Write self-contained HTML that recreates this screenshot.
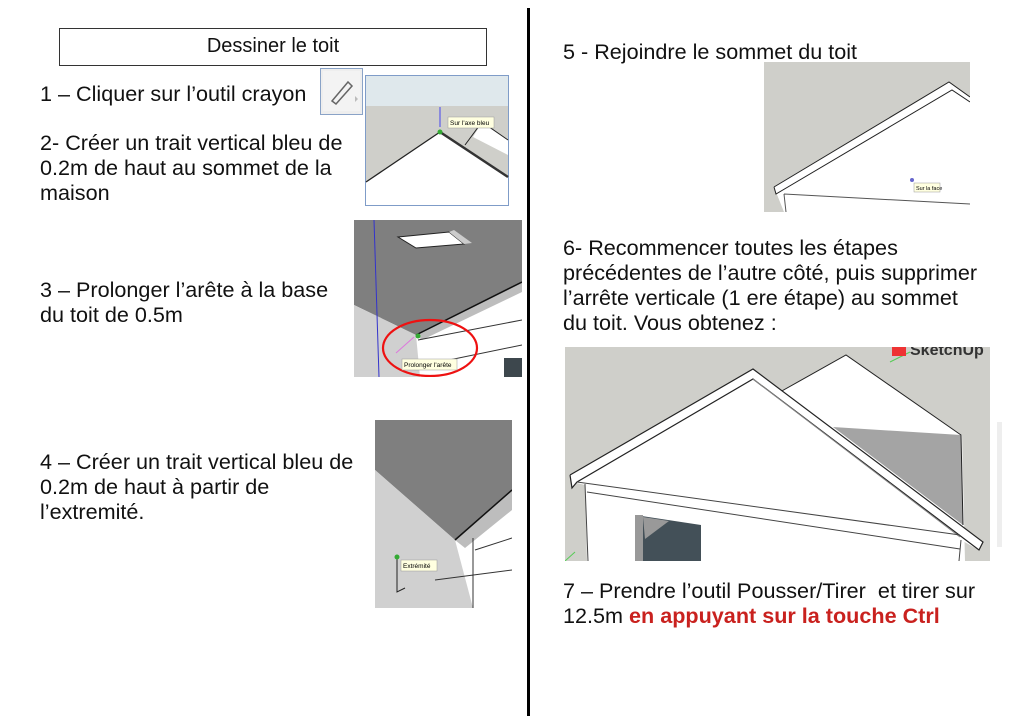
<!DOCTYPE html>
<html><head><meta charset="utf-8"><style>
body{margin:0;width:1024px;height:724px;background:#fff;position:relative;overflow:hidden;font-family:"Liberation Sans",sans-serif;color:#111}
.t{position:absolute;font-size:21.6px;line-height:25px;white-space:nowrap}
.a{position:absolute}
</style></head><body>
<div class="a" style="left:59px;top:28px;width:426px;height:36px;border:1px solid #333;text-align:center;font-size:20px;line-height:34px">Dessiner le toit</div>
<div class="a" style="left:527px;top:8px;width:3px;height:708px;background:#000"></div>

<div class="t" style="left:40px;top:81px">1 – Cliquer sur l’outil crayon</div>
<div class="t" style="left:40px;top:130px">2- Créer un trait vertical bleu de<br>0.2m de haut au sommet de la<br>maison</div>
<div class="t" style="left:40px;top:277px">3 – Prolonger l’arête à la base<br>du toit de 0.5m</div>
<div class="t" style="left:40px;top:449px">4 – Créer un trait vertical bleu de<br>0.2m de haut à partir de<br>l’extremité.</div>
<div class="t" style="left:563px;top:39px">5 - Rejoindre le sommet du toit</div>
<div class="t" style="left:563px;top:235px">6- Recommencer toutes les étapes<br>précédentes de l’autre côté, puis supprimer<br>l’arrête verticale (1 ere étape) au sommet<br>du toit. Vous obtenez :</div>
<div class="t" style="left:563px;top:578px">7 – Prendre l’outil Pousser/Tirer&nbsp; et tirer sur<br>12.5m <b style="color:#c9211e">en appuyant sur la touche Ctrl</b></div>

<!-- pencil -->
<svg class="a" style="left:320px;top:68px" width="43" height="47"><rect x="0.5" y="0.5" width="42" height="46" fill="#eee" stroke="#8aa3c7"/><rect x="3" y="3" width="37" height="40" fill="#f3f3f3"/><path d="M12 33 L28 14 L32 18 L16 36 Z" fill="none" stroke="#666" stroke-width="1.5"/><path d="M35 28 l3 3 -3 3z" fill="#bbb"/></svg>

<!-- img1 -->
<svg class="a" style="left:365px;top:75px" width="144" height="131"><rect x="0" y="0" width="144" height="131" fill="#fff" stroke="#7f9cc8" stroke-width="2"/><rect x="1" y="1" width="142" height="30" fill="#dfe8ec"/><rect x="1" y="31" width="142" height="99" fill="#cfcfca"/>
<path d="M1 107 L75 57 L143 102 L143 130 L1 130Z" fill="#fff"/><path d="M108 62 L117 47 L143 65 L143 80Z" fill="#fff"/>
<path d="M1 107 L75 57" stroke="#222" stroke-width="1.3"/><path d="M75 57 L143 102" stroke="#333" stroke-width="2.5"/><path d="M100 70 L117 47 L143 65" stroke="#222" fill="none"/>
<line x1="75" y1="52" x2="75" y2="32" stroke="#44e"/><circle cx="75" cy="57" r="2.5" fill="#3a3"/>
<rect x="83" y="42" width="46" height="11" fill="#ffffe0" stroke="#999" stroke-width=".5"/><text x="85" y="50" font-size="6.5" font-family="Liberation Sans">Sur l'axe bleu</text></svg>

<!-- img2 -->
<svg class="a" style="left:354px;top:220px" width="168" height="157"><rect width="168" height="157" fill="#fff"/>
<path d="M0 0 L168 0 L168 62 L62 115 L0 85Z" fill="#7f7f7f"/><path d="M168 62 L62 115 L68 120 L168 72Z" fill="#bdbdbd"/>
<path d="M0 85 L62 115 L66 157 L0 157Z" fill="#d0d0d0"/><path d="M44 17 L95 12 L110 24 L62 28Z" fill="#fff" stroke="#222"/><path d="M95 12 L110 24 L118 23 L100 10Z" fill="#ccc"/>
<path d="M64 120 L168 100 M66 146 L168 125" stroke="#333"/><path d="M168 62 L62 115" stroke="#111" stroke-width="1.5"/>
<line x1="20" y1="0" x2="25" y2="157" stroke="#33c"/><line x1="42" y1="133" x2="60" y2="117" stroke="#d7d"/>
<ellipse cx="76" cy="128" rx="47" ry="28" fill="none" stroke="#e11" stroke-width="2.2"/><circle cx="64" cy="116" r="2.5" fill="#3a3"/>
<rect x="48" y="139" width="55" height="11" fill="#ffffe0" stroke="#999" stroke-width=".5"/><text x="50" y="147" font-size="6.5" font-family="Liberation Sans">Prolonger l'arête</text>
<rect x="150" y="138" width="18" height="19" fill="#3d474d"/></svg>

<!-- img3 -->
<svg class="a" style="left:375px;top:420px" width="137" height="188"><rect width="137" height="188" fill="#fff"/>
<path d="M0 0 L137 0 L137 70 L80 120 L0 50Z" fill="#7f7f7f"/><path d="M137 70 L80 120 L90 128 L137 90Z" fill="#bdbdbd"/>
<path d="M0 50 L80 120 L98 188 L0 188Z" fill="#d0d0d0"/><path d="M137 70 L80 120" stroke="#111" stroke-width="1.5"/>
<path d="M98 118 L98 188 M60 160 L137 150 M100 130 L137 118" stroke="#333"/><path d="M22 138 L22 172 L30 168" stroke="#222" fill="none"/><circle cx="22" cy="137" r="2.5" fill="#3a3"/>
<rect x="26" y="140" width="36" height="11" fill="#ffffe0" stroke="#999" stroke-width=".5"/><text x="28" y="148" font-size="6.5" font-family="Liberation Sans">Extrémité</text></svg>

<!-- img5 -->
<svg class="a" style="left:764px;top:62px" width="206" height="150"><rect width="206" height="150" fill="#cfcfca"/>
<path d="M10 125 L185 20 L206 35 L206 150 L20 150Z" fill="#fff"/><path d="M10 125 L185 20 L206 35 M10 125 L12 132 L188 28 L206 40" stroke="#222" fill="none"/>
<path d="M20 132 L206 142 M20 132 L22 150" stroke="#555"/><circle cx="148" cy="118" r="2" fill="#66c"/>
<rect x="150" y="121" width="26" height="9" fill="#ffffe0" stroke="#999" stroke-width=".5"/><text x="152" y="128" font-size="5.5" font-family="Liberation Sans">Sur la face</text></svg>

<!-- final -->
<svg class="a" style="left:565px;top:347px" width="437" height="214"><rect width="437" height="214" fill="#cfcfca"/>
<rect x="425" y="0" width="12" height="214" fill="#fff"/>
<path d="M215 45 L281 8 L397 88 L400 214 L215 214Z" fill="#fff"/>
<path d="M268 80 L396 88 L398 178Z" fill="#a4a4a4"/>
<path d="M215 45 L281 8 L396 88 L398 178" stroke="#222" fill="none"/>
<path d="M5 128 L188 22 L418 195 L414 203 L396 193 L398 214 L22 214 L20 138 L12 136 L7 141Z" fill="#fff"/>
<path d="M5 128 L188 22 L418 195 L414 203 L188 32 L12 135 L7 141 L5 128" stroke="#222" stroke-width="1.2" fill="none"/>
<path d="M188 32 L395 190" stroke="#888"/>
<path d="M12 135 L395 188 M22 145 L395 202 M20 137 L23 214 M396 193 L394 214" stroke="#444" fill="none"/>
<path d="M70 168 L136 178 L136 214 L70 214Z" fill="#435058"/><path d="M70 168 L78 168 L78 214 L70 214Z" fill="#999"/><path d="M78 170 L104 174 L80 192Z" fill="#999"/>
<path d="M325 15 L345 5" stroke="#5c5"/><path d="M0 214 L10 205" stroke="#5c5"/>
<rect x="327" y="0" width="14" height="9" fill="#e33"/><text x="345" y="8" font-size="16" font-weight="bold" fill="#333" font-family="Liberation Sans">SketchUp</text>
<rect x="432" y="75" width="5" height="125" fill="#eee"/></svg>
</body></html>
